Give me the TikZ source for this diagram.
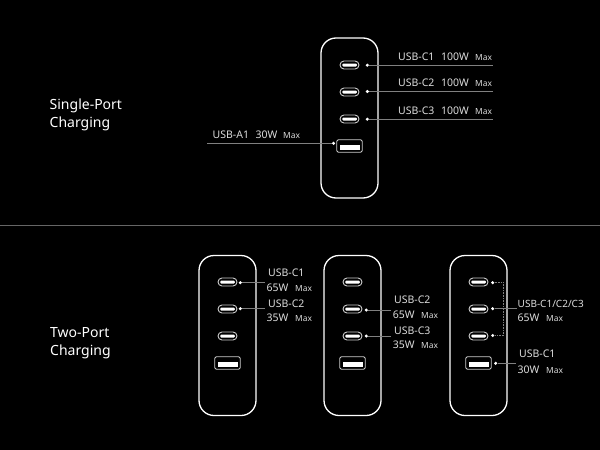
\documentclass[tikz,border=0pt]{standalone}
\usepackage{fontspec}
\setmainfont{Noto Sans}
\definecolor{linegray}{gray}{0.5}
\definecolor{txt}{gray}{0.86}
\tikzset{
  x=1pt,y=-1pt,
  body/.style={draw=white,line width=1.3pt,rounded corners=15pt,inner sep=0pt,minimum width=57pt,minimum height=160pt},
  cport/.style={draw=white!80!black,line width=0.9pt,rounded corners=4pt,inner sep=0pt,minimum width=19pt,minimum height=8pt},
  cbar/.style={fill=white,rounded corners=1pt,inner sep=0pt,minimum width=14.5pt,minimum height=3pt},
  aport/.style={draw=white!80!black,line width=0.9pt,rounded corners=1.5pt,inner sep=0pt,minimum width=25.5pt,minimum height=12.5pt},
  abar/.style={fill=white,inner sep=0pt,minimum width=20pt,minimum height=4.2pt},
  pdot/.style={circle,fill=white,inner sep=0pt,minimum size=3.4pt},
  lead/.style={draw=linegray,line width=0.7pt},
  dlead/.style={draw=linegray,line width=0.6pt,densely dotted},
  lab/.style={anchor=base west,inner sep=0pt,text=txt,font=\fontsize{10.5}{12}\selectfont},
  maxlab/.style={anchor=base west,inner sep=0pt,text=txt,font=\fontsize{8.4}{10}\selectfont},
  title/.style={anchor=base west,inner sep=0pt,text=white,font=\fontsize{14}{16}\selectfont},
}
% #1 prefix, #2 body centre x, #3 body centre y, #4 first port y
\newcommand{\charger}[4]{%
  \node[body] (#1b) at (#2,#3) {};
  \node[cport] (#1c1) at (#2,#4) {}; \node[cbar] at (#2,#4) {};
  \node[cport] (#1c2) at (#2,#4+27) {}; \node[cbar] at (#2,#4+27) {};
  \node[cport] (#1c3) at (#2,#4+54) {}; \node[cbar] at (#2,#4+54) {};
  \node[aport] (#1a) at (#2,#4+81) {}; \node[abar] at (#2,#4+82.5) {};
}
\begin{document}
\begin{tikzpicture}
\useasboundingbox[fill=black] (0,0) rectangle (600,450);
\coordinate (sepl) at (0,225); \coordinate (sepr) at (600,225);
\draw[draw=black!60!white,line width=0.7pt] (sepl) -- (sepr);
\node[title] (t1) at (49.5,109) {Single-Port};
\node[title] (t2) at (49.5,127) {Charging};
\node[title] (t3) at (50,337) {Two-Port};
\node[title] (t4) at (50,355) {Charging};
\charger{p}{349.5}{118}{65}
\charger{q}{227.5}{335.5}{282}
\charger{r}{352.5}{335.5}{282}
\charger{s}{478.5}{335.5}{282}
% top charger
\node[pdot] (pd1) at (367.3,65.2) {}; \coordinate (pe1) at (493,65.2);
\node[pdot] (pd2) at (367.3,91.5) {}; \coordinate (pe2) at (493,91.5);
\node[pdot] (pd3) at (367.3,119.2) {}; \coordinate (pe3) at (493,119.2);
\node[pdot] (pd4) at (333.5,143.3) {}; \coordinate (pe4) at (207,143.3);
\foreach \i in {1,2,3,4} \draw[lead] (pd\i) -- (pe\i);
\node[lab] (l1) at (398,60.5) {USB-C1}; \node[lab] (l1b) at (441,60.5) {100W}; \node[maxlab] (l1c) at (475,60.5) {Max};
\node[lab] (l2) at (398,86.5) {USB-C2}; \node[lab] (l2b) at (441,86.5) {100W}; \node[maxlab] (l2c) at (475,86.5) {Max};
\node[lab] (l3) at (398,114) {USB-C3}; \node[lab] (l3b) at (441,114) {100W}; \node[maxlab] (l3c) at (475,114) {Max};
\node[lab] (l4) at (212.5,138) {USB-A1}; \node[lab] (l4b) at (255.5,138) {30W}; \node[maxlab] (l4c) at (283,138) {Max};
% second charger
\node[pdot] (qd1) at (240.3,282.7) {}; \coordinate (qe1) at (265,282.7);
\node[pdot] (qd2) at (240.3,308.7) {}; \coordinate (qe2) at (265,308.7);
\draw[lead] (qd1) -- (qe1); \draw[lead] (qd2) -- (qe2);
\node[lab] (m1) at (268,276) {USB-C1}; \node[lab] (m1b) at (266.5,291) {65W}; \node[maxlab] (m1c) at (295,291) {Max};
\node[lab] (m2) at (268,307) {USB-C2}; \node[lab] (m2b) at (266.5,321) {35W}; \node[maxlab] (m2c) at (295,321) {Max};
% third charger
\node[pdot] (rd1) at (366.3,310) {}; \coordinate (re1) at (391,310);
\node[pdot] (rd2) at (366.3,336) {}; \coordinate (re2) at (391,336);
\draw[lead] (rd1) -- (re1); \draw[lead] (rd2) -- (re2);
\node[lab] (n1) at (394,303) {USB-C2}; \node[lab] (n1b) at (392.7,318) {65W}; \node[maxlab] (n1c) at (421,318) {Max};
\node[lab] (n2) at (394,334) {USB-C3}; \node[lab] (n2b) at (392.7,348) {35W}; \node[maxlab] (n2c) at (421,348) {Max};
% fourth charger
\node[pdot] (sd1) at (492.7,282.7) {};
\node[pdot] (sd2) at (492.7,308.7) {};
\node[pdot] (sd3) at (492.7,335.5) {};
\node[pdot] (sd4) at (495.7,363.3) {};
\coordinate (se2) at (516.5,308.7); \coordinate (se4) at (516,363.3);
\coordinate (sv1) at (503.3,282.7); \coordinate (sv3) at (503.3,335.5);
\draw[lead] (sd2) -- (se2);
\draw[lead,line width=1pt] (sd4) -- (se4);
\draw[dlead] (sd1) -- (sv1) -- (sv3) -- (sd3);
\node[lab,font=\fontsize{10}{12}\selectfont] (o1) at (517.5,307.5) {USB-C1/C2/C3}; \node[lab] (o1b) at (517.5,321) {65W}; \node[maxlab] (o1c) at (546,321) {Max};
\node[lab] (o2) at (519,357) {USB-C1}; \node[lab] (o2b) at (517.5,373) {30W}; \node[maxlab] (o2c) at (546,373) {Max};
\end{tikzpicture}
\end{document}
